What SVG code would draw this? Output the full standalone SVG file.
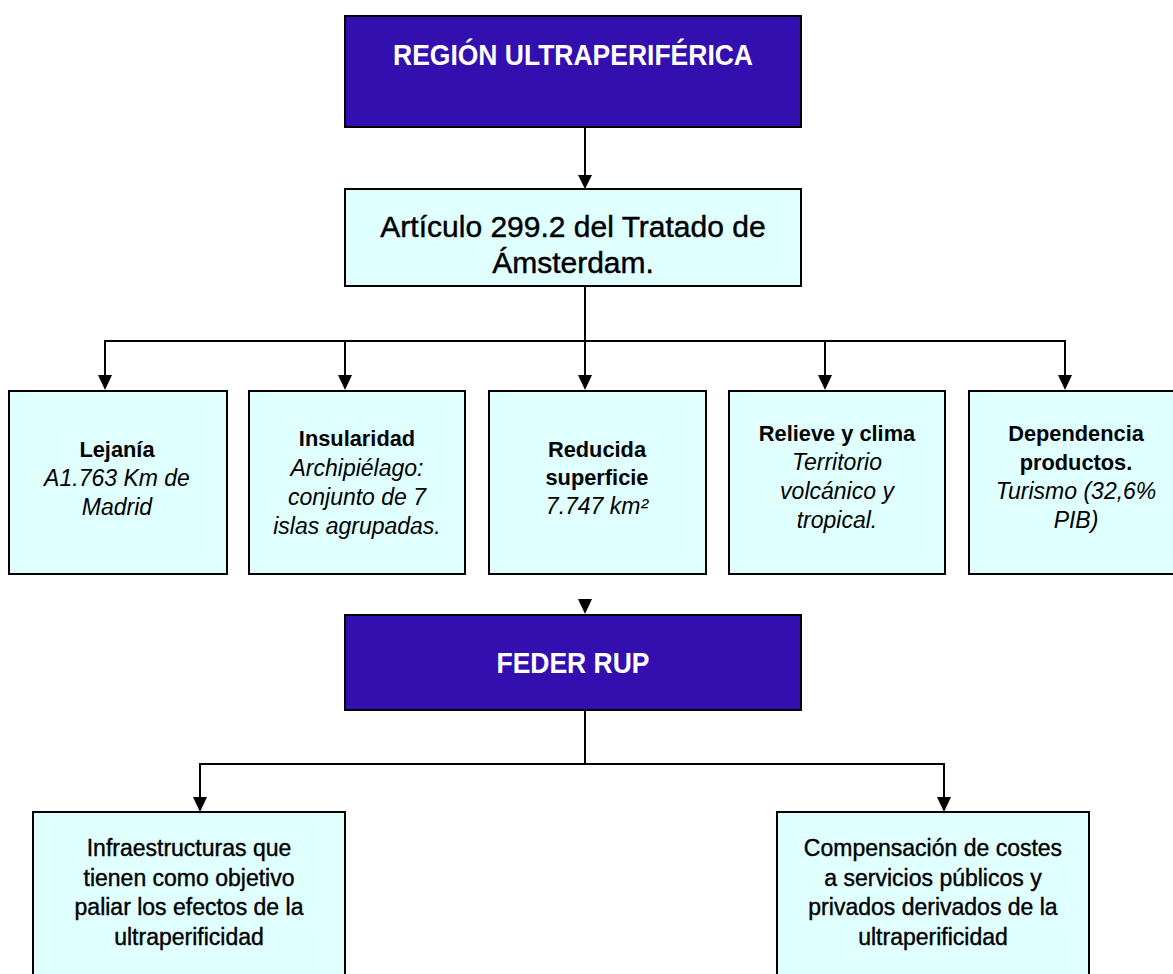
<svg xmlns="http://www.w3.org/2000/svg" width="1173" height="974" viewBox="0 0 1173 974">
<defs>
<style>
.dark{fill:#330FAF;stroke:#000;stroke-width:2}
.light{fill:#E0FFFF;stroke:#000;stroke-width:2}
.title{font-family:"Liberation Sans",Arial,sans-serif;font-weight:bold;font-size:29px;fill:#fff;text-anchor:middle}
.art{font-family:"Liberation Sans",Arial,sans-serif;font-size:30px;fill:#000;stroke:#000;stroke-width:0.45;text-anchor:middle}
.hb{font-family:"Liberation Sans",Arial,sans-serif;font-weight:bold;font-size:21.8px;fill:#000;text-anchor:middle}
.it{font-family:"Liberation Sans",Arial,sans-serif;font-style:italic;font-size:23px;fill:#000;text-anchor:middle}
.bt{font-family:"Liberation Sans",Arial,sans-serif;font-size:23px;fill:#000;stroke:#000;stroke-width:0.4;text-anchor:middle}
.ln{fill:none;stroke:#000;stroke-width:2}
.ah{fill:#000}
</style>
</defs>
<rect width="1173" height="974" fill="#fff"/>
<g id="connectors">
<path class="ln" d="M585,127 V176"/>
<polygon class="ah" points="578,175 592,175 585,189"/>
<path class="ln" d="M585,286 V341 M105,341 H1065 M105,340 V376 M345,340 V376 M585,341 V376 M825,340 V376 M1065,340 V376"/>
<polygon class="ah" points="98,375 112,375 105,390"/>
<polygon class="ah" points="338,375 352,375 345,390"/>
<polygon class="ah" points="578,375 592,375 585,390"/>
<polygon class="ah" points="818,375 832,375 825,390"/>
<polygon class="ah" points="1058,375 1072,375 1065,390"/>
<polygon class="ah" points="578,599 592,599 585,614"/>
<path class="ln" d="M585,710 V764 M200,764 H944 M200,763 V798 M944,763 V798"/>
<polygon class="ah" points="193,797 207,797 200,812"/>
<polygon class="ah" points="937,797 951,797 944,812"/>
</g>
<g id="n-region">
<rect class="dark" x="345" y="16" width="456" height="111"/>
<text class="title" x="573" y="65" textLength="360" lengthAdjust="spacingAndGlyphs">REGIÓN ULTRAPERIFÉRICA</text>
</g>
<g id="n-articulo">
<rect class="light" x="345" y="189" width="456" height="97"/>
<text class="art" x="573" y="237">Artículo 299.2 del Tratado de</text>
<text class="art" x="573" y="273">Ámsterdam.</text>
</g>
<g id="n-lejania">
<rect class="light" x="9" y="391" width="218" height="183"/>
<text class="hb" x="117" y="457">Lejanía</text>
<text class="it" x="117" y="486">A1.763 Km de</text>
<text class="it" x="117" y="515">Madrid</text>
</g>
<g id="n-insularidad">
<rect class="light" x="249" y="391" width="216" height="183"/>
<text class="hb" x="357" y="446">Insularidad</text>
<text class="it" x="357" y="476">Archipiélago:</text>
<text class="it" x="357" y="505">conjunto de 7</text>
<text class="it" x="357" y="534">islas agrupadas.</text>
</g>
<g id="n-superficie">
<rect class="light" x="489" y="391" width="217" height="183"/>
<text class="hb" x="597" y="457">Reducida</text>
<text class="hb" x="597" y="485">superficie</text>
<text class="it" x="597" y="514">7.747 km²</text>
</g>
<g id="n-relieve">
<rect class="light" x="729" y="391" width="216" height="183"/>
<text class="hb" x="837" y="441">Relieve y clima</text>
<text class="it" x="837" y="470">Territorio</text>
<text class="it" x="837" y="499">volcánico y</text>
<text class="it" x="837" y="528">tropical.</text>
</g>
<g id="n-dependencia">
<rect class="light" x="969" y="391" width="216" height="183"/>
<text class="hb" x="1076" y="441">Dependencia</text>
<text class="hb" x="1076" y="470">productos.</text>
<text class="it" x="1076" y="499">Turismo (32,6%</text>
<text class="it" x="1076" y="528">PIB)</text>
</g>
<g id="n-feder">
<rect class="dark" x="345" y="615" width="456" height="95"/>
<text class="title" x="573" y="673" textLength="153" lengthAdjust="spacingAndGlyphs">FEDER RUP</text>
</g>
<g id="n-infraestructuras">
<rect class="light" x="33" y="812" width="312" height="175"/>
<text class="bt" x="189" y="856">Infraestructuras que</text>
<text class="bt" x="189" y="885.5">tienen como objetivo</text>
<text class="bt" x="189" y="915">paliar los efectos de la</text>
<text class="bt" x="189" y="944.5">ultraperificidad</text>
</g>
<g id="n-compensacion">
<rect class="light" x="777" y="812" width="312" height="175"/>
<text class="bt" x="933" y="856">Compensación de costes</text>
<text class="bt" x="933" y="885.5">a servicios públicos y</text>
<text class="bt" x="933" y="915">privados derivados de la</text>
<text class="bt" x="933" y="944.5">ultraperificidad</text>
</g>
</svg>
